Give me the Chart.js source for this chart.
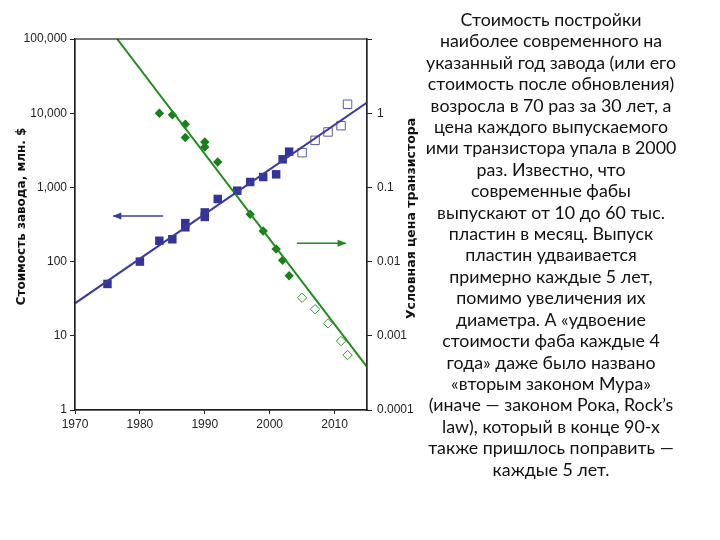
<!DOCTYPE html>
<html><head><meta charset="utf-8">
<script src="https://cdn.jsdelivr.net/npm/chart.js@4"></script>
<style>
html,body{margin:0;padding:0;background:#fff;width:720px;height:540px;overflow:hidden}
#wrap{position:absolute;left:0;top:0;width:430px;height:440px}
#txt{position:absolute;left:396px;top:9px;width:310px;text-align:center;font-family:Lato,"Open Sans",sans-serif;font-size:17.8px;line-height:21.4px;color:#111}
</style></head><body>
<div id="wrap"><canvas id="c" width="430" height="440"></canvas></div>
<div id="txt"></div>
<script>
// ---- data ----
const fabYears = [1975,1980,1983,1985,1987,1987,1990,1990,1992,1995,1997,1999,2001,2002,2003];
const fabCost  = [50,100,191,200,290,330,400,460,698,903,1183,1380,1500,2390,3030];
const fabProjYears = [2005,2007,2009,2011,2012];
const fabProjCost  = [2940,4310,5590,6790,13200];
const trYears = [1983,1985,1987,1987,1990,1990,1992,1997,1999,2001,2002,2003];
const trPrice = [1.0,0.95,0.71,0.47,0.41,0.35,0.22,0.0434,0.0258,0.0148,0.0104,0.00646];
const trProjYears = [2005,2007,2009,2011,2012];
const trProjPrice = [0.00326,0.00228,0.00147,0.00085,0.00055];
const fabTrendYears = [1970,2015];
const fabTrendCost = [27.4,13870];
const trTrendYears = [1976.5,2015];
const trTrendPrice = [10,0.00038];
const xTicks = [1970,1980,1990,2000,2010];
const leftTicks = [1,10,100,1000,10000,100000];
const leftTickLabels = ["1","10","100","1,000","10,000","100,000"];
const rightTicks = [0.0001,0.001,0.01,0.1,1,10];
const rightTickLabels = ["0.0001","0.001","0.01","0.1","1",""];
const leftTitle = 'Стоимость завода, млн. $';
const rightTitle = 'Условная цена транзистора';
const arrows = [ // from-year, to-year (head), level on left axis
  {from:1983.6,to:1975.9,y:412,color:'#3c3c9e'},
  {from:2004.2,to:2011.7,y:177,color:'#1e8c1e'}
];
const textLines = [
"Стоимость постройки","наиболее современного на","указанный год завода (или его",
"стоимость после обновления)","возросла в 70 раз за 30 лет, а","цена каждого выпускаемого",
"ими транзистора упала в 2000","раз. Известно, что","современные фабы",
"выпускают от 10 до 60 тыс.","пластин в месяц. Выпуск","пластин удваивается",
"примерно каждые 5 лет,","помимо увеличения их","диаметра. А «удвоение",
"стоимости фаба каждые 4","года» даже было названо","«вторым законом Мура»",
"(иначе — законом Рока, Rock’s","law), который в конце 90-х","также пришлось поправить —","каждые 5 лет."];
document.getElementById('txt').innerHTML = textLines.join('<br>');

const BLUE = '#333399', GREEN = '#17801a';
const zip = (xs, ys) => xs.map((x,i)=>({x:x,y:ys[i]}));

const boxPlugin = {
  id:'box',
  afterDatasetsDraw(chart){
    const {ctx, chartArea:a, scales} = chart;
    ctx.save();
    ctx.strokeStyle='#222'; ctx.lineWidth=1.2;
    ctx.strokeRect(a.left, a.top, a.right-a.left, a.bottom-a.top);
    arrows.forEach(ar=>{
      const x1=scales.x.getPixelForValue(ar.from), x2=scales.x.getPixelForValue(ar.to);
      const y=scales.y.getPixelForValue(ar.y);
      ctx.strokeStyle=ar.color; ctx.fillStyle=ar.color; ctx.lineWidth=1.6;
      ctx.beginPath(); ctx.moveTo(x1,y); ctx.lineTo(x2,y); ctx.stroke();
      const d = x2>x1?1:-1;
      ctx.beginPath(); ctx.moveTo(x2+d*1,y); ctx.lineTo(x2-d*8,y-3.5); ctx.lineTo(x2-d*8,y+3.5); ctx.closePath(); ctx.fill();
    });
    // axis titles, both reading bottom-to-top
    const cy = (a.top+a.bottom)/2;
    ctx.fillStyle='#111'; ctx.textAlign='center'; ctx.textBaseline='middle';
    ctx.font='bold 12px "DejaVu Sans", Arial';
    ctx.save(); ctx.translate(a.left-53, cy-8); ctx.rotate(-Math.PI/2); ctx.fillText(leftTitle,0,0); ctx.restore();
    ctx.font='bold 12.5px "DejaVu Sans", Arial';
    ctx.save(); ctx.translate(a.right+45, cy-6); ctx.rotate(-Math.PI/2); ctx.fillText(rightTitle,0,0); ctx.restore();
    ctx.restore();
  }
};

new Chart(document.getElementById('c'), {
  type:'scatter',
  data:{datasets:[
    {type:'line', data:zip(fabTrendYears,fabTrendCost), yAxisID:'y', borderColor:'#3a3aa0', borderWidth:2, pointRadius:0, fill:false},
    {type:'line', data:zip(trTrendYears,trTrendPrice), yAxisID:'y2', borderColor:'#1e8c1e', borderWidth:2, pointRadius:0, fill:false},
    {data:zip(fabYears,fabCost), yAxisID:'y', pointStyle:'rect', pointRadius:6, backgroundColor:BLUE, borderColor:BLUE, borderWidth:0},
    {data:zip(fabProjYears,fabProjCost), yAxisID:'y', pointStyle:'rect', pointRadius:6, backgroundColor:'#fff', borderColor:'#5a5aa8', borderWidth:1},
    {data:zip(trYears,trPrice), yAxisID:'y2', pointStyle:'rectRot', pointRadius:4.7, backgroundColor:GREEN, borderColor:GREEN, borderWidth:0},
    {data:zip(trProjYears,trProjPrice), yAxisID:'y2', pointStyle:'rectRot', pointRadius:4.7, backgroundColor:'#fff', borderColor:'#3a9a3a', borderWidth:1}
  ]},
  options:{
    responsive:false, animation:false,
    layout:{padding:{left:0,right:0,top:39,bottom:0}},
    plugins:{legend:{display:false}, tooltip:{enabled:false}},
    scales:{
      x:{type:'linear', min:1970, max:2015,
        afterBuildTicks(s){ s.ticks = xTicks.map(v=>({value:v})); },
        afterFit(s){ s.height = 30; },
        grid:{drawOnChartArea:false, drawTicks:true, tickLength:4, color:'#222'},
        border:{color:'#222', width:1.2},
        ticks:{color:'#222', font:{family:'Liberation Sans, Arial', size:12}, padding:3, maxRotation:0,
          callback:(v)=>String(v)}
      },
      y:{type:'logarithmic', position:'left', min:1, max:100000,
        afterBuildTicks(s){ s.ticks = leftTicks.map(v=>({value:v})); },
        afterFit(s){ s.width = 75; },
        grid:{drawOnChartArea:false, drawTicks:true, tickLength:5, color:'#222'},
        border:{color:'#222', width:1.2},
        ticks:{color:'#222', font:{family:'Liberation Sans, Arial', size:12}, padding:3,
          callback:(v)=>{const i=leftTicks.indexOf(v); return i>=0?leftTickLabels[i]:'';}}
      },
      y2:{type:'logarithmic', position:'right', min:0.0001, max:10,
        afterBuildTicks(s){ s.ticks = rightTicks.map(v=>({value:v})); },
        afterFit(s){ s.width = 63; },
        grid:{drawOnChartArea:false, drawTicks:true, tickLength:5, color:'#222'},
        border:{color:'#222', width:1.2},
        ticks:{color:'#222', font:{family:'Liberation Sans, Arial', size:12}, padding:5,
          callback:(v)=>{const i=rightTicks.findIndex(t=>Math.abs(t-v)/t<1e-6); return i>=0?rightTickLabels[i]:'';}}
      }
    }
  },
  plugins:[boxPlugin]
});
</script>
</body></html>
